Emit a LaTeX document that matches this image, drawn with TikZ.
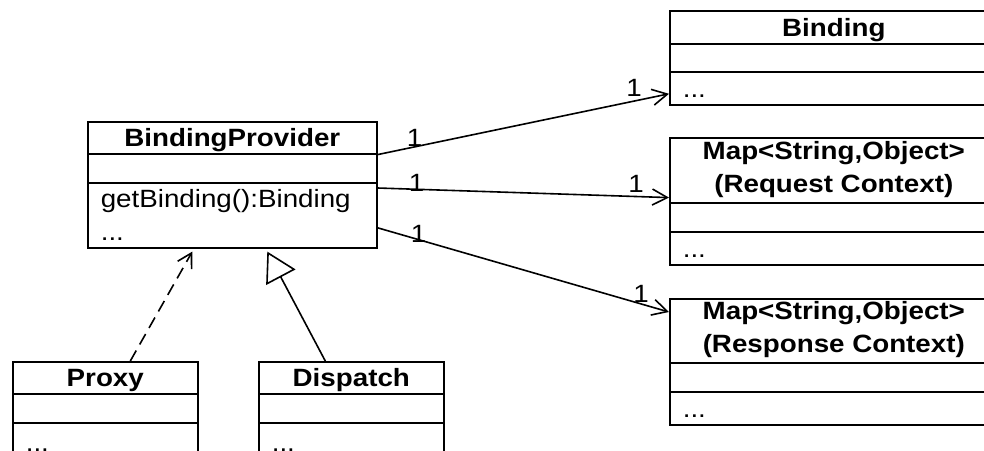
\documentclass[tikz,border=0pt]{standalone}
\usepackage{fontspec}
\setmainfont{Liberation Sans}[FakeStretch=1.11]
\usetikzlibrary{arrows.meta}

\newcommand{\umlfont}{\fontsize{25}{33}\selectfont}
\newcommand{\umlstrut}{\vrule height 25pt depth 7pt width 0pt}

\tikzset{
  head/.style={draw,anchor=north west,inner sep=0pt,align=center,
    font=\umlfont\bfseries,
    execute at begin node=\umlstrut,execute at end node=\umlstrut},
  attr/.style={draw,anchor=north west,inner sep=0pt},
  body/.style={draw,anchor=north west,inner sep=0pt,inner xsep=13pt,align=left,
    font=\umlfont,
    execute at begin node=\umlstrut,execute at end node=\umlstrut},
  mult/.style={font=\fontsize{25}{30}\selectfont,inner sep=0pt,above},
  assoc/.style={-{Straight Barb[length=15pt,width=16pt]}},
  dep/.style={dash pattern=on 12pt off 7pt,-{Straight Barb[length=14pt,width=16pt]}},
  gen/.style={-{Triangle[open,length=29pt,width=33pt]}}
}

\begin{document}
\begin{tikzpicture}[x=1pt,y=-1pt,line width=1.6pt]

      \useasboundingbox (0,0) rectangle (984,450);
      \clip (0,0) rectangle (984,450);

      \begin{scope}[every node/.append style={minimum width=289pt}]
        \node[head,minimum height=32pt] (bp)      at (87,121) {BindingProvider};
        \node[attr,minimum height=29pt] (bp-attr) at (87,153) {};
        \node[body,minimum height=65pt,text width=263pt] (bp-ops) at (87,182)
          {getBinding():Binding\\...};
      \end{scope}

      \begin{scope}[every node/.append style={minimum width=185pt}]
        \node[head,minimum height=32pt] (px)      at (12,361) {Proxy};
        \node[attr,minimum height=29pt] (px-attr) at (12,393) {};
        \node[body,minimum height=40pt,text width=159pt] (px-ops) at (12,422) {...};
        \node[head,minimum height=32pt] (dp)      at (258,361) {Dispatch};
        \node[attr,minimum height=29pt] (dp-attr) at (258,393) {};
        \node[body,minimum height=40pt,text width=159pt] (dp-ops) at (258,422) {...};
      \end{scope}

      \begin{scope}[every node/.append style={minimum width=328pt}]
        \node[head,minimum height=33pt] (bd)      at (669,10)  {Binding};
        \node[attr,minimum height=28pt] (bd-attr) at (669,43)  {};
        \node[body,minimum height=33pt,text width=302pt] (bd-ops) at (669,71) {...};
        \node[head,minimum height=65pt] (rq)      at (669,137) {Map<String,Object>\\(Request Context)};
        \node[attr,minimum height=29pt] (rq-attr) at (669,202) {};
        \node[body,minimum height=33pt,text width=302pt] (rq-ops) at (669,231) {...};
        \node[head,minimum height=64pt] (rs)      at (669,298) {Map<String,Object>\\(Response Context)};
        \node[attr,minimum height=29pt] (rs-attr) at (669,362) {};
        \node[body,minimum height=33pt,text width=302pt] (rs-ops) at (669,391) {...};
      \end{scope}

      \begin{scope}[every edge/.style={draw}]
        \path[assoc] (bp.south east) edge node[mult,pos=.127] {1} node[mult,pos=.88,yshift=4pt] {1}
          ([yshift=-5.5pt]bd-ops.west);
        \path[assoc] ([yshift=-6pt]bp-ops.north east) edge node[mult,pos=.134,yshift=-3pt] {1}
          node[mult,pos=.887,yshift=3pt] {1} ([yshift=6pt]rq.south west);
        \path[assoc] ([yshift=-12.5pt]bp-ops.east) edge node[mult,pos=.141,yshift=-4pt] {1}
          node[mult,pos=.904,yshift=1pt] {1} ([yshift=-14pt]rs.north west);
        \path[dep] ([xshift=25pt]px.north) edge ([xshift=-40pt,yshift=-3pt]bp-ops.south);
        \path[gen] ([xshift=-26pt]dp.north) edge ([xshift=35pt,yshift=-3pt]bp-ops.south);
      \end{scope}

    \end{tikzpicture}
\end{document}
